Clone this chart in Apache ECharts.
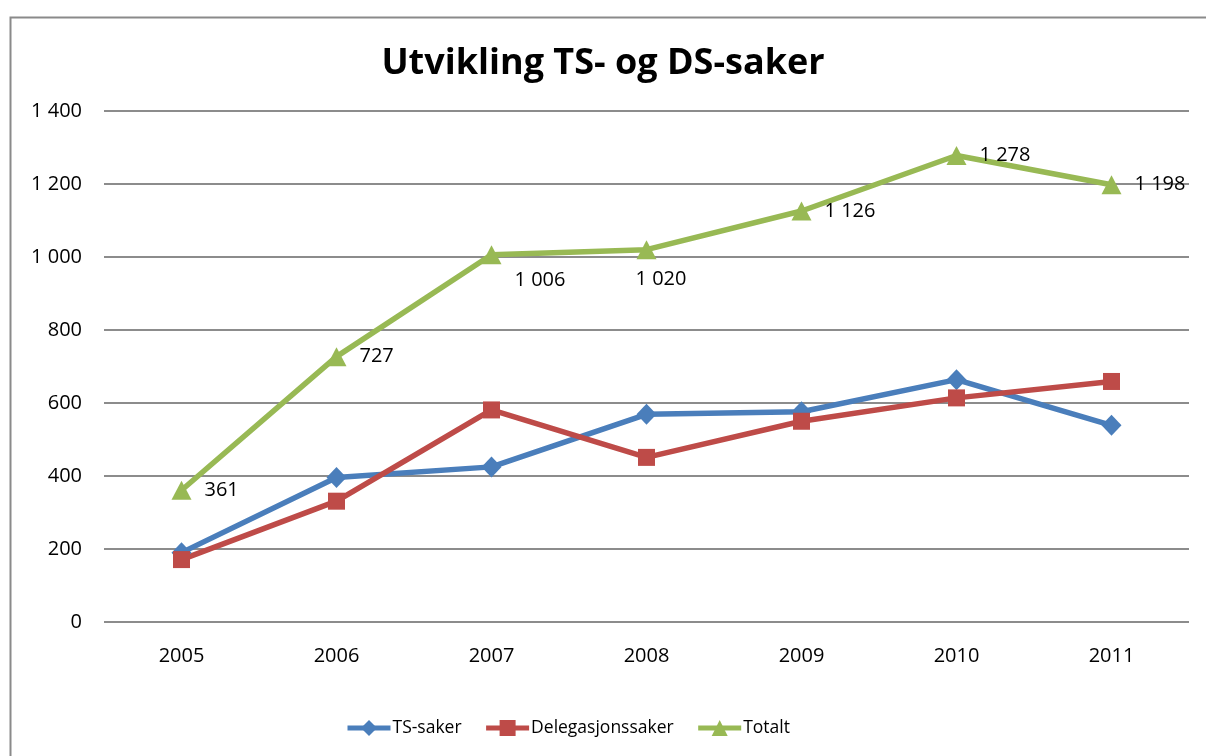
<!DOCTYPE html>
<html>
<head>
<meta charset="utf-8">
<script src="https://cdn.jsdelivr.net/npm/echarts@6/dist/echarts.min.js"></script>
<style>
html,body{margin:0;padding:0;background:#fff;}
#chart{width:1206px;height:756px;}
</style>
</head>
<body>
<div id="chart"></div>
<script>
const years = ['2005','2006','2007','2008','2009','2010','2011'];
const tsSaker = [190, 396, 425, 569, 576, 664, 539];
const delegasjonssaker = [171, 331, 581, 451, 550, 614, 659];
const totalt = [361, 727, 1006, 1020, 1126, 1278, 1198];
const yTicks = [0, 200, 400, 600, 800, 1000, 1200, 1400];

const FONT = '"Open Sans"';
function fmt(v){ return String(v).replace(/\B(?=(\d{3})+(?!\d))/g, ' '); }

const labelOffsets = {2: [0, 25], 3: [-34, 30]};
const totalData = totalt.map((v, i) => {
  const d = {value: v};
  if (labelOffsets[i]) d.label = {offset: labelOffsets[i]};
  return d;
});

const chart = echarts.init(document.getElementById('chart'), null, {renderer: 'canvas'});
chart.setOption({
  backgroundColor: '#ffffff',
  animation: false,
  textStyle: {fontFamily: FONT},
  title: {
    text: 'Utvikling TS- og DS-saker',
    left: 'center',
    top: 41,
    textStyle: {fontFamily: FONT, fontWeight: 'bold', fontSize: 36, color: '#000'}
  },
  graphic: [{
    type: 'rect',
    left: 8, top: 15,
    shape: {width: 1220, height: 780},
    style: {fill: 'none', stroke: '#8a8a8a', lineWidth: 2},
    silent: true
  }],
  legend: {
    bottom: 14,
    left: 340,
    itemWidth: 43,
    itemHeight: 20,
    itemGap: 22,
    lineStyle: {width: 5},
    textStyle: {fontFamily: FONT, fontSize: 17.5, color: '#000', padding: [0, 0, 0, -3]},
    data: ['TS-saker', 'Delegasjonssaker', 'Totalt']
  },
  grid: {left: 104, right: 17, top: 111, bottom: 134, containLabel: false},
  xAxis: {
    type: 'category',
    data: years,
    boundaryGap: true,
    axisLine: {show: false},
    axisTick: {show: false},
    axisLabel: {fontFamily: FONT, fontSize: 20, color: '#000', margin: 24}
  },
  yAxis: {
    type: 'value',
    min: yTicks[0],
    max: yTicks[yTicks.length - 1],
    interval: 200,
    axisLine: {show: false},
    axisTick: {show: false},
    splitLine: {lineStyle: {color: '#8c8c8c', width: 2}},
    axisLabel: {fontFamily: FONT, fontSize: 20, color: '#000', margin: 22, formatter: fmt}
  },
  series: [
    {
      name: 'TS-saker', type: 'line', data: tsSaker,
      symbol: 'diamond', symbolSize: [20, 21],
      color: '#4a7ebb',
      lineStyle: {width: 5.5, color: '#4a7ebb'},
      itemStyle: {color: '#4a7ebb'}
    },
    {
      name: 'Delegasjonssaker', type: 'line', data: delegasjonssaker,
      symbol: 'rect', symbolSize: 17,
      color: '#be4b48',
      lineStyle: {width: 5.5, color: '#be4b48'},
      itemStyle: {color: '#be4b48'}
    },
    {
      name: 'Totalt', type: 'line', data: totalData,
      symbol: 'triangle', symbolSize: [20, 19],
      color: '#98b954',
      lineStyle: {width: 5.5, color: '#98b954'},
      itemStyle: {color: '#98b954'},
      label: {
        show: true, position: 'right', distance: 13,
        fontFamily: FONT, fontSize: 20, color: '#000',
        formatter: p => fmt(p.value)
      }
    }
  ]
});
</script>
</body>
</html>
